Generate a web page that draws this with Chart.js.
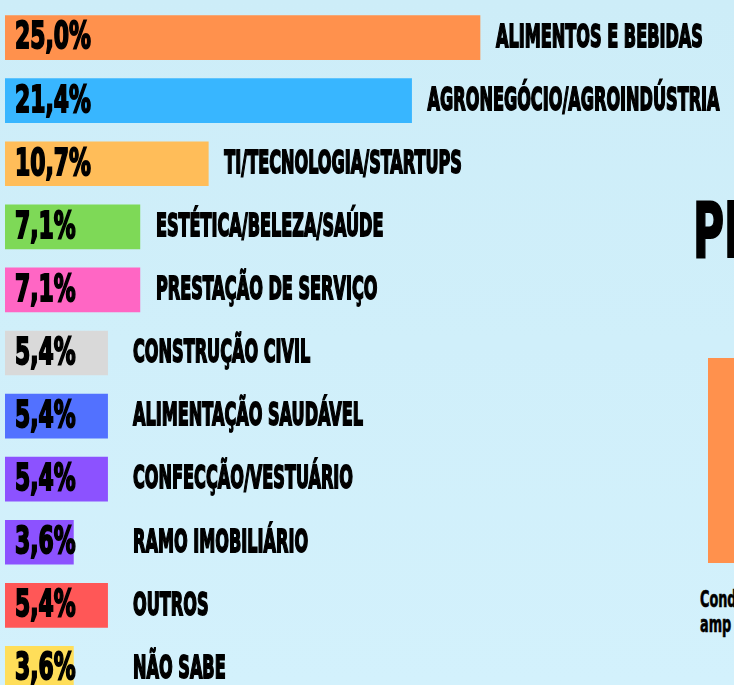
<!DOCTYPE html>
<html lang="pt-BR">
<head>
  <meta charset="UTF-8">
  <title>Segmentos</title>
  <script src="https://cdn.jsdelivr.net/npm/chart.js"></script>
  <style>
    html, body {
      margin: 0; padding: 0; width: 734px; height: 685px; overflow: hidden;
      background: linear-gradient(180deg, #cdedf8 0%, #d3f1fc 100%);
      font-family: "DejaVu Sans Condensed", "DejaVu Sans", sans-serif;
    }
    #wrap { position: absolute; left: 0; top: 0; width: 734px; height: 702px; }
    .deco { position: absolute; font-weight: bold; color: #000; white-space: nowrap; transform-origin: left top; }
    #titulo { left: 693px; top: 186px; font-size: 76px; transform: scaleX(0.62); -webkit-text-stroke: 2px #000; }
    #bloco { position: absolute; left: 708px; top: 358px; width: 30px; height: 205px; background: #ff914d; }
    #nota { left: 700px; top: 587px; font-size: 23px; line-height: 25px; transform: scaleX(0.62); -webkit-text-stroke: 0.6px #000; }
  </style>
</head>
<body>
  <div class="deco" id="titulo">PR</div>
  <div id="bloco"></div>
  <div class="deco" id="nota">Cond<br>amp</div>
  <div id="wrap"><canvas id="chart"></canvas></div>

  <script>
    const categories = [
      'ALIMENTOS E BEBIDAS', 'AGRONEGÓCIO/AGROINDÚSTRIA', 'TI/TECNOLOGIA/STARTUPS',
      'ESTÉTICA/BELEZA/SAÚDE', 'PRESTAÇÃO DE SERVIÇO', 'CONSTRUÇÃO CIVIL',
      'ALIMENTAÇÃO SAUDÁVEL', 'CONFECÇÃO/VESTUÁRIO', 'RAMO IMOBILIÁRIO',
      'OUTROS', 'NÃO SABE'
    ];
    const percents = [25.0, 21.4, 10.7, 7.1, 7.1, 5.4, 5.4, 5.4, 3.6, 5.4, 3.6];
    const barColors = [
      '#ff914d', '#38b6ff', '#ffbd59', '#7ed957', '#ff66c4', '#d9d9d9',
      '#5271ff', '#8c52ff', '#8c52ff', '#ff5757', '#ffde59'
    ];

    const FONT = '"DejaVu Sans Condensed", "DejaVu Sans", sans-serif';

    function squeezedText(ctx, text, x, y, size, sx, stroke) {
      ctx.save();
      ctx.translate(x, y);
      ctx.scale(sx, 1);
      ctx.font = 'bold ' + size + 'px ' + FONT;
      ctx.textAlign = 'left';
      ctx.textBaseline = 'middle';
      ctx.fillStyle = '#000';
      ctx.strokeStyle = '#000';
      ctx.lineWidth = stroke;
      ctx.fillText(text, 0, 0);
      ctx.strokeText(text, 0, 0);
      ctx.restore();
    }

    const barLabels = {
      id: 'barLabels',
      afterDatasetsDraw(chart) {
        const ctx = chart.ctx;
        chart.getDatasetMeta(0).data.forEach((bar, i) => {
          const pct = percents[i].toFixed(1).replace('.', ',') + '%';
          squeezedText(ctx, pct, bar.base + 10, bar.y + 1, 38, 0.64, 2);
          const lx = Math.max(bar.x + 16, 133);
          squeezedText(ctx, categories[i], lx, bar.y + 1, 32, 0.56, 1.8);
        });
      }
    };

    new Chart(document.getElementById('chart'), {
      type: 'bar',
      data: {
        labels: categories,
        datasets: [{
          data: percents,
          backgroundColor: barColors,
          borderWidth: 0,
          barThickness: 44
        }]
      },
      options: {
        indexAxis: 'y',
        responsive: true,
        maintainAspectRatio: false,
        animation: false,
        layout: { padding: { left: 5, right: 7, top: 6, bottom: 2 } },
        plugins: { legend: { display: false }, tooltip: { enabled: false } },
        scales: {
          x: { display: false, min: 0, max: 38 },
          y: { display: false }
        }
      },
      plugins: [barLabels]
    });
  </script>
</body>
</html>
